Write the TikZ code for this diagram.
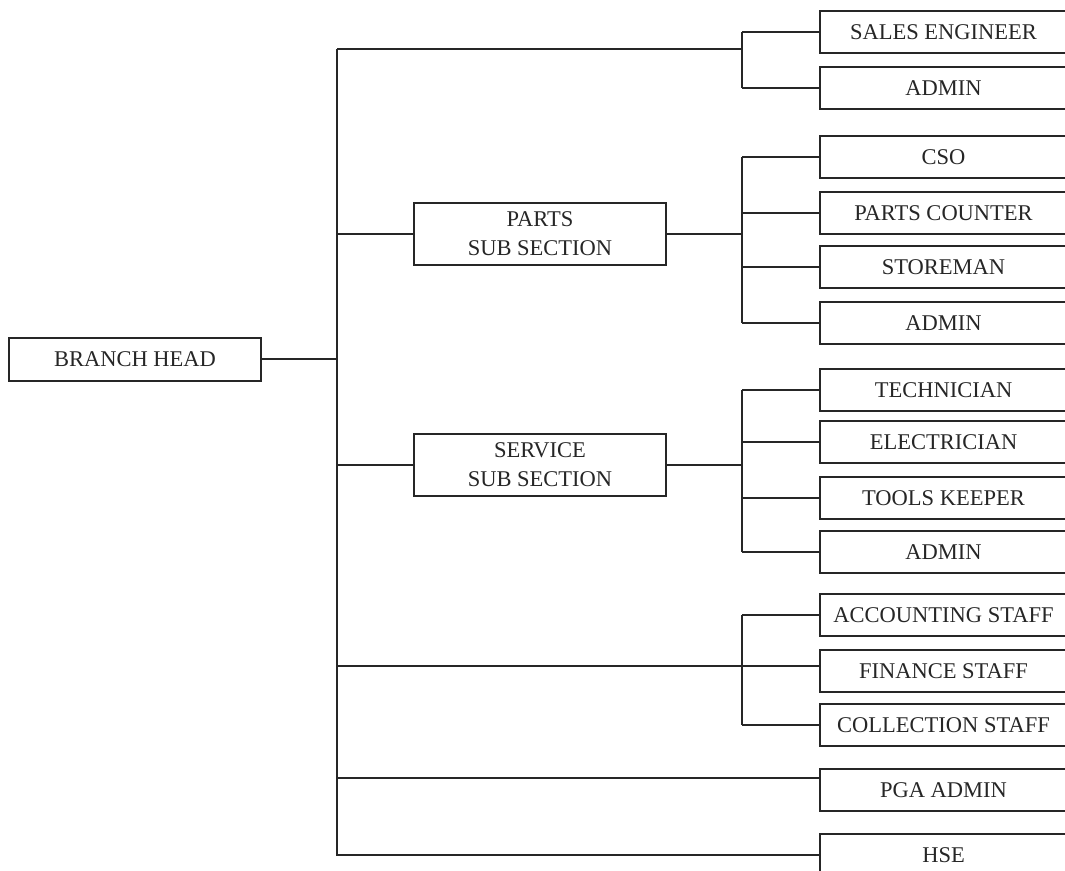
\documentclass[tikz,border=0pt]{standalone}
\usepackage{fontspec}
\setmainfont{Liberation Serif}
\begin{document}
\begin{tikzpicture}[x=1pt,y=-1pt,line width=2pt,
  box/.style={draw=black!85, rectangle, inner sep=0pt, align=center, text=black!85,
              font=\fontsize{22.5}{29}\selectfont},
  leaf/.style={box, minimum width=247pt, minimum height=42pt},
  sub/.style={box, minimum width=252pt},
  wire/.style={draw=black!85, line width=2pt}]
\useasboundingbox (0,0) rectangle (1065,870);
\clip (0,0) rectangle (1065,870);

% main nodes
\node[sub, minimum height=43pt] (bh) at (135,359) {BRANCH HEAD};
\node[sub, minimum height=62pt] (parts) at (540,234) {PARTS\\SUB SECTION};
\node[sub, minimum height=62pt] (serv) at (540,465) {SERVICE\\SUB SECTION};

% leaves
\node[leaf] (se)   at (943.5,32)  {SALES ENGINEER};
\node[leaf] (ad1)  at (943.5,88)  {ADMIN};
\node[leaf] (cso)  at (943.5,157) {CSO};
\node[leaf] (pc)   at (943.5,213) {PARTS COUNTER};
\node[leaf] (sto)  at (943.5,267) {STOREMAN};
\node[leaf] (ad2)  at (943.5,323) {ADMIN};
\node[leaf] (tec)  at (943.5,390) {TECHNICIAN};
\node[leaf] (ele)  at (943.5,442) {ELECTRICIAN};
\node[leaf] (tk)   at (943.5,498) {TOOLS KEEPER};
\node[leaf] (ad3)  at (943.5,552) {ADMIN};
\node[leaf] (acc)  at (943.5,615) {ACCOUNTING STAFF};
\node[leaf] (fin)  at (943.5,671) {FINANCE STAFF};
\node[leaf] (col)  at (943.5,725) {COLLECTION STAFF};
\node[leaf] (pga)  at (943.5,790) {PGA ADMIN};
\node[leaf] (hse)  at (943.5,855) {HSE};

% helper coordinates
\coordinate (mt) at (337,49);
\coordinate (bx) at (742,0);
\coordinate (fy) at (0,666);
\coordinate (py) at (0,778);

% main trunk
\draw[wire] (mt) -- (mt |- hse.west) -- (hse.west);
\draw[wire] (bh.east) -- (bh.east -| mt);

% top group
\draw[wire] (mt) -- (mt -| bx);
\draw[wire] (se.west -| bx) -- (ad1.west -| bx);
\draw[wire] (se.west -| bx) -- (se.west);
\draw[wire] (ad1.west -| bx) -- (ad1.west);

% parts group
\draw[wire] (parts.west -| mt) -- (parts.west);
\draw[wire] (parts.east) -- (parts.east -| bx);
\draw[wire] (cso.west -| bx) -- (ad2.west -| bx);
\foreach \n in {cso,pc,sto,ad2} \draw[wire] (\n.west -| bx) -- (\n.west);

% service group
\draw[wire] (serv.west -| mt) -- (serv.west);
\draw[wire] (serv.east) -- (serv.east -| bx);
\draw[wire] (tec.west -| bx) -- (ad3.west -| bx);
\foreach \n in {tec,ele,tk,ad3} \draw[wire] (\n.west -| bx) -- (\n.west);

% finance group
\draw[wire] (mt |- fy) -- (fin.west |- fy);
\draw[wire] (acc.west -| bx) -- (col.west -| bx);
\draw[wire] (acc.west -| bx) -- (acc.west);
\draw[wire] (col.west -| bx) -- (col.west);

% PGA admin
\draw[wire] (mt |- py) -- (pga.west |- py);
\end{tikzpicture}
\end{document}
